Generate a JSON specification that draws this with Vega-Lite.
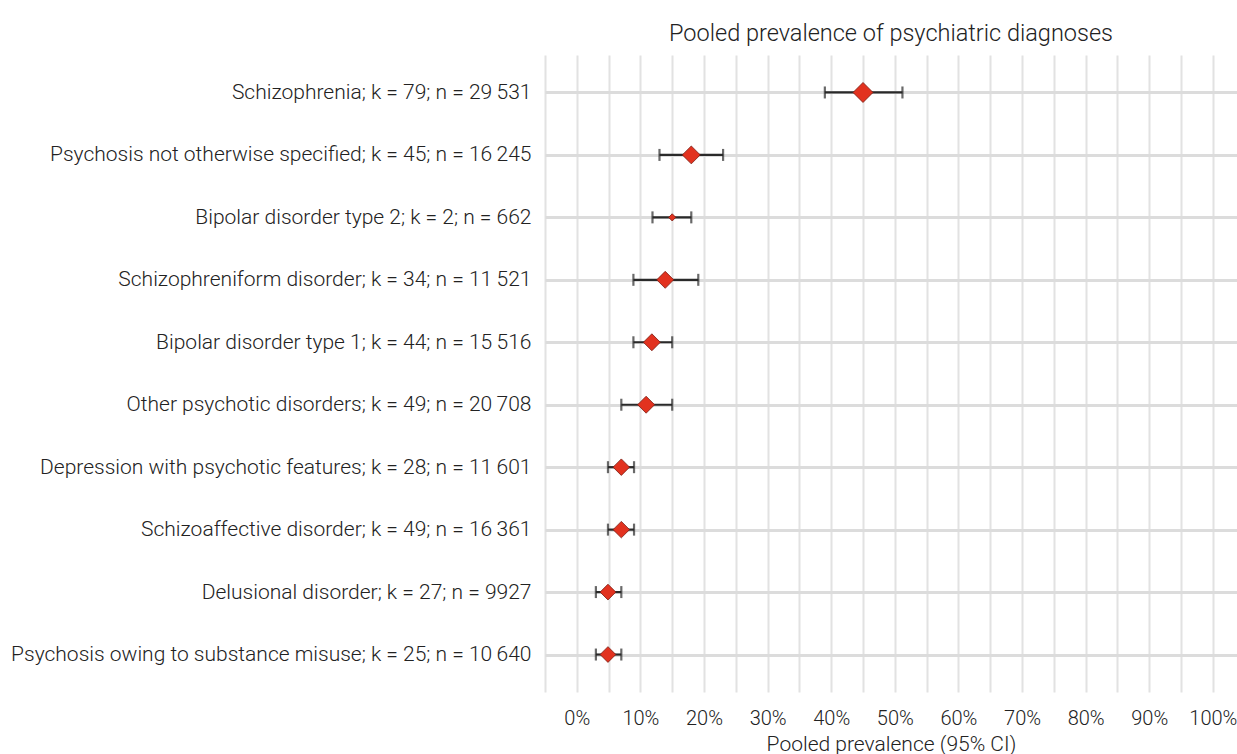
{
  "$schema": "https://vega.github.io/schema/vega-lite/v6.json",
  "width": 692,
  "height": 637,
  "autosize": "none",
  "padding": {"left": 545, "top": 55, "right": 0, "bottom": 62},
  "background": "white",
  "config": {
    "view": {"stroke": null},
    "font": "Roboto",
    "axis": {"labelFont": "Roboto", "titleFont": "Roboto", "labelFontWeight": 300, "titleFontWeight": 300, "labelColor": "#222", "titleColor": "#222"}
  },
  "title": {"text": "Pooled prevalence of psychiatric diagnoses", "fontSize": 23.5, "fontWeight": 300, "font": "Roboto", "color": "#222", "anchor": "middle", "offset": 10},
  "data": {"values": [
    {"label": "Schizophrenia; k = 79; n = 29\u2009531", "est": 45.0, "lo": 39.0, "hi": 51.2, "weight": 1.0},
    {"label": "Psychosis not otherwise specified; k = 45; n = 16\u2009245", "est": 18.0, "lo": 13.0, "hi": 23.0, "weight": 0.8},
    {"label": "Bipolar disorder type 2; k = 2; n = 662", "est": 15.0, "lo": 11.9, "hi": 18.0, "weight": 0.13},
    {"label": "Schizophreniform disorder; k = 34; n = 11\u2009521", "est": 13.9, "lo": 8.9, "hi": 19.1, "weight": 0.72},
    {"label": "Bipolar disorder type 1; k = 44; n = 15\u2009516", "est": 11.8, "lo": 8.9, "hi": 15.0, "weight": 0.72},
    {"label": "Other psychotic disorders; k = 49; n = 20\u2009708", "est": 10.9, "lo": 7.0, "hi": 15.0, "weight": 0.72},
    {"label": "Depression with psychotic features; k = 28; n = 11\u2009601", "est": 7.0, "lo": 4.9, "hi": 9.0, "weight": 0.68},
    {"label": "Schizoaffective disorder; k = 49; n = 16\u2009361", "est": 7.0, "lo": 4.9, "hi": 9.0, "weight": 0.68},
    {"label": "Delusional disorder; k = 27; n = 9927", "est": 4.9, "lo": 3.0, "hi": 7.0, "weight": 0.62},
    {"label": "Psychosis owing to substance misuse; k = 25; n = 10\u2009640", "est": 4.9, "lo": 3.0, "hi": 7.0, "weight": 0.62}
  ]},
  "encoding": {
    "y": {
      "field": "label", "type": "nominal", "sort": null,
      "scale": {"type": "point", "padding": 0.6},
      "axis": {"title": null, "ticks": false, "domain": false, "labelFontSize": 21, "labelPadding": 14, "labelLimit": 600,
               "grid": true, "gridColor": "#dcdcdc", "gridWidth": 3}
    }
  },
  "layer": [
    {
      "mark": {"type": "rule", "color": "#2a2a2a", "strokeWidth": 2.2},
      "encoding": {
        "x": {"field": "lo", "type": "quantitative",
              "scale": {"domain": [-5, 103.8], "nice": false, "zero": false},
              "axis": {"title": "Pooled prevalence (95% CI)", "titleFontSize": 21, "titlePadding": 5,
                       "values": [-5, 0, 5, 10, 15, 20, 25, 30, 35, 40, 45, 50, 55, 60, 65, 70, 75, 80, 85, 90, 95, 100],
                       "labelExpr": "datum.value >= 0 && datum.value % 10 == 0 ? datum.value + '%' : ''",
                       "labelFontSize": 20, "labelPadding": 16, "ticks": false, "domain": false,
                       "grid": true, "gridColor": "#e2e2e2", "gridWidth": 2}},
        "x2": {"field": "hi"}
      }
    },
    {
      "mark": {"type": "tick", "orient": "vertical", "color": "#2a2a2a", "thickness": 2.2, "size": 12},
      "encoding": {"x": {"field": "lo", "type": "quantitative",
              "axis": {"title": "Pooled prevalence (95% CI)", "titleFontSize": 21, "titlePadding": 5,
                       "values": [-5, 0, 5, 10, 15, 20, 25, 30, 35, 40, 45, 50, 55, 60, 65, 70, 75, 80, 85, 90, 95, 100],
                       "labelExpr": "datum.value >= 0 && datum.value % 10 == 0 ? datum.value + '%' : ''",
                       "labelFontSize": 20, "labelPadding": 16, "ticks": false, "domain": false,
                       "grid": true, "gridColor": "#e2e2e2", "gridWidth": 2}}}
    },
    {
      "mark": {"type": "tick", "orient": "vertical", "color": "#2a2a2a", "thickness": 2.2, "size": 12},
      "encoding": {"x": {"field": "hi", "type": "quantitative",
              "axis": {"title": "Pooled prevalence (95% CI)", "titleFontSize": 21, "titlePadding": 5,
                       "values": [-5, 0, 5, 10, 15, 20, 25, 30, 35, 40, 45, 50, 55, 60, 65, 70, 75, 80, 85, 90, 95, 100],
                       "labelExpr": "datum.value >= 0 && datum.value % 10 == 0 ? datum.value + '%' : ''",
                       "labelFontSize": 20, "labelPadding": 16, "ticks": false, "domain": false,
                       "grid": true, "gridColor": "#e2e2e2", "gridWidth": 2}}}
    },
    {
      "mark": {"type": "point", "shape": "diamond", "filled": true, "fill": "#e2321f", "stroke": "#7a1c12", "strokeWidth": 0.8, "opacity": 1},
      "encoding": {
        "x": {"field": "est", "type": "quantitative",
              "axis": {"title": "Pooled prevalence (95% CI)", "titleFontSize": 21, "titlePadding": 5,
                       "values": [-5, 0, 5, 10, 15, 20, 25, 30, 35, 40, 45, 50, 55, 60, 65, 70, 75, 80, 85, 90, 95, 100],
                       "labelExpr": "datum.value >= 0 && datum.value % 10 == 0 ? datum.value + '%' : ''",
                       "labelFontSize": 20, "labelPadding": 16, "ticks": false, "domain": false,
                       "grid": true, "gridColor": "#e2e2e2", "gridWidth": 2}},
        "size": {"field": "weight", "type": "quantitative", "scale": {"domain": [0, 1], "range": [0, 400]}, "legend": null}
      }
    }
  ]
}
